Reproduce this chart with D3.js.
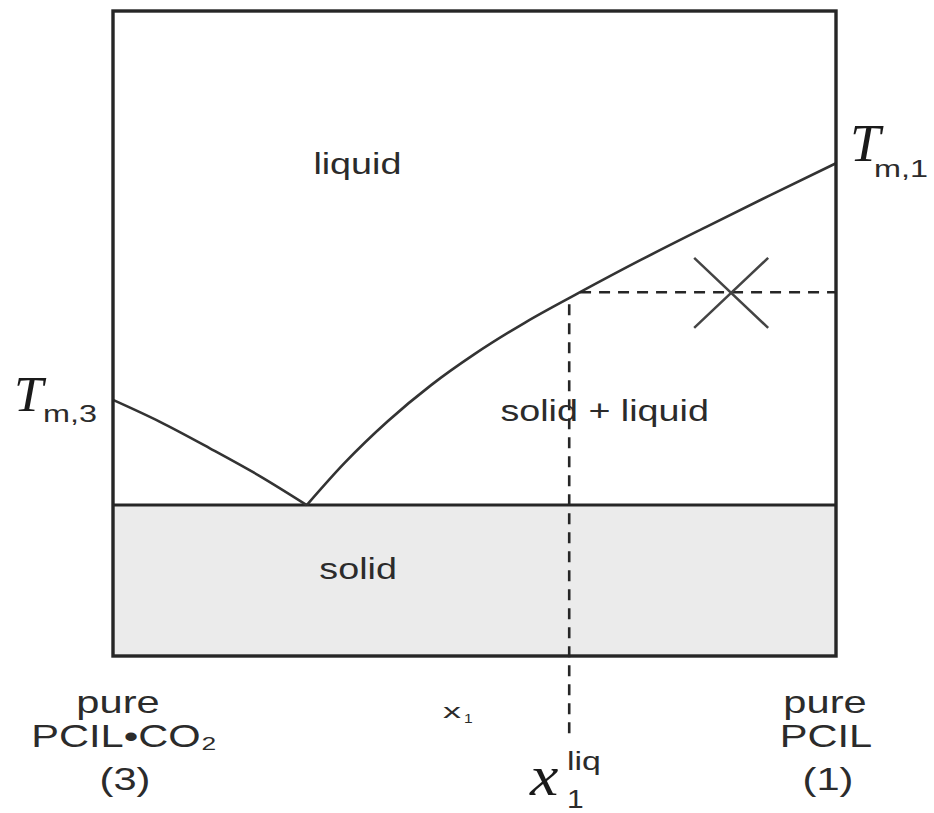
<!DOCTYPE html>
<html>
<head>
<meta charset="utf-8">
<script src="https://cdn.jsdelivr.net/npm/d3@7"></script>
<style>
  html, body { margin: 0; padding: 0; background: #fff; }
  svg { display: block; }
</style>
</head>
<body>
<svg id="chart" width="934" height="813"></svg>
<script>
// Binary solid–liquid phase diagram: x1 (mole fraction of PCIL) vs. temperature
// Composition runs from pure PCIL•CO2 (x1 = 0) to pure PCIL (x1 = 1).

// Liquidus branch rising from the eutectic to the melting point of PCIL (1)
const liquidus1X = [0.268, 0.320, 0.380, 0.440, 0.500, 0.570, 0.646, 0.730, 0.820, 0.910, 1.000];
const liquidus1T = [23.4, 29.9, 36.4, 42.0, 46.8, 51.7, 56.4, 61.4, 66.5, 71.5, 76.4];

// Liquidus branch falling from the melting point of PCIL•CO2 (3) to the eutectic
const liquidus3X = [0.000, 0.065, 0.134, 0.203, 0.268];
const liquidus3T = [39.7, 36.3, 32.2, 27.9, 23.4];

// Eutectic temperature (solid below)
const eutecticT = 23.4;

// Tie-line at the overall state point
const tieT = 56.4;
const tieStartX = 0.646;       // liquidus composition on the curve
const liqX = 0.631;            // x1^liq read-down line
const dropEndT = -12.3;        // read-down line ends below the axis
const statePoint = { x: 0.855, T: 56.3 };

// Region labels
const regionLabels = [
  { text: "liquid",         x: 0.338, T: 74.7 },
  { text: "solid + liquid", x: 0.680, T: 36.4 },
  { text: "solid",          x: 0.339, T: 11.9 }
];

const W = 934, H = 813;
const svg = d3.select("#chart");

const x = d3.scaleLinear().domain([0, 1]).range([113, 836]);
const y = d3.scaleLinear().domain([0, 100]).range([656, 11]);

const ink = "#262626";
const textInk = "#2b2b2b";

// Solid region
svg.append("rect")
  .attr("x", x(0)).attr("y", y(eutecticT))
  .attr("width", x(1) - x(0)).attr("height", y(0) - y(eutecticT))
  .attr("fill", "#ebebeb");

// Eutectic line
svg.append("line")
  .attr("x1", x(0)).attr("x2", x(1))
  .attr("y1", y(eutecticT)).attr("y2", y(eutecticT))
  .attr("stroke", ink).attr("stroke-width", 3);

// Liquidus curves
const line = d3.line()
  .x(d => x(d[0])).y(d => y(d[1]))
  .curve(d3.curveMonotoneX);

svg.append("path")
  .datum(liquidus1X.map((v, i) => [v, liquidus1T[i]]))
  .attr("d", line)
  .attr("fill", "none").attr("stroke", "#333").attr("stroke-width", 2.6);

svg.append("path")
  .datum(liquidus3X.map((v, i) => [v, liquidus3T[i]]))
  .attr("d", line)
  .attr("fill", "none").attr("stroke", "#333").attr("stroke-width", 2.6);

// Tie-line and read-down line
svg.append("line")
  .attr("x1", x(tieStartX)).attr("x2", x(1))
  .attr("y1", y(tieT)).attr("y2", y(tieT))
  .attr("stroke", ink).attr("stroke-width", 2.6)
  .attr("stroke-dasharray", "11,8");

svg.append("line")
  .attr("x1", x(liqX)).attr("x2", x(liqX))
  .attr("y1", y(tieT) + 12).attr("y2", y(dropEndT))
  .attr("stroke", ink).attr("stroke-width", 2.6)
  .attr("stroke-dasharray", "11,8");

// State point marker (X)
const cx = x(statePoint.x), cy = y(statePoint.T);
const hw = 37, hh = 35;
svg.append("path")
  .attr("d", `M${cx - hw},${cy - hh}L${cx + hw},${cy + hh}M${cx + hw},${cy - hh}L${cx - hw},${cy + hh}`)
  .attr("stroke", "#444").attr("stroke-width", 2.5).attr("fill", "none");

// Frame
svg.append("rect")
  .attr("x", x(0)).attr("y", y(100))
  .attr("width", x(1) - x(0)).attr("height", y(0) - y(100))
  .attr("fill", "none").attr("stroke", ink).attr("stroke-width", 3.4);

// Text helper: horizontally stretched glyphs
function label(text, px, py, opts) {
  const o = Object.assign({ size: 29, sx: 1.3, anchor: "middle",
    family: "'Liberation Sans', Arial, sans-serif", style: "normal", fill: textInk }, opts || {});
  return svg.append("text")
    .attr("transform", `translate(${px},${py}) scale(${o.sx},1)`)
    .attr("text-anchor", o.anchor)
    .attr("font-family", o.family)
    .attr("font-style", o.style)
    .attr("font-size", o.size)
    .attr("fill", o.fill)
    .text(text);
}

regionLabels.forEach(d => label(d.text, x(d.x), y(d.T)));

// Melting-point labels
const serif = "'Liberation Serif', 'Times New Roman', serif";
label("T", 14, 411, { size: 50, sx: 1.05, anchor: "start", family: serif, style: "italic", fill: "#1a1a1a" });
label("m,3", 43, 422, { size: 24, sx: 1.35, anchor: "start" });
label("T", 850, 161, { size: 52, sx: 1.05, anchor: "start", family: serif, style: "italic", fill: "#1a1a1a" });
label("m,1", 874, 177, { size: 24, sx: 1.35, anchor: "start" });

// Composition axis labels
label("pure", 118, 713, { size: 32 });
label("PCIL•CO₂", 124, 747, { size: 32 });
label("(3)", 125, 790, { size: 32 });

label("pure", 825, 713, { size: 32 });
label("PCIL", 826, 747, { size: 32 });
label("(1)", 828, 790, { size: 32 });

// x1 axis title
label("x", 443, 718, { size: 20, sx: 1.8, anchor: "start" });
label("1", 464, 723, { size: 13, sx: 1.2, anchor: "start" });

// x1^liq marker label
label("x", 530, 795, { size: 58, sx: 1.1, anchor: "start", family: serif, style: "italic", fill: "#1a1a1a" });
label("1", 567, 808, { size: 25, sx: 1.2, anchor: "start" });
label("liq", 567, 770, { size: 26, sx: 1.3, anchor: "start" });
</script>
</body>
</html>
